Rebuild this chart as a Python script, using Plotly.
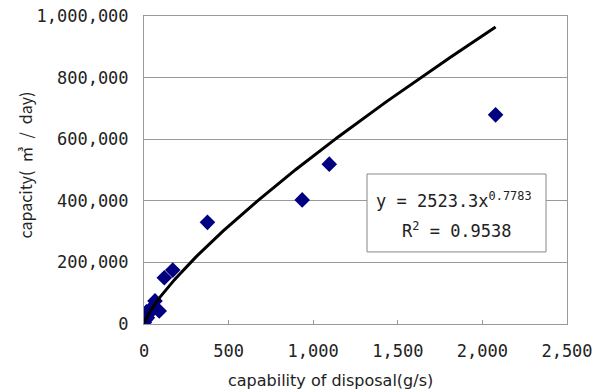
import numpy as np
import plotly.graph_objects as go

disposal = [2, 5, 10, 15, 20, 30, 50, 65, 90, 120, 170, 375, 935, 1095, 2078]
capacity = [5000, 30000, 15000, 40000, 20000, 35000, 55000, 75000, 42000,
            150000, 175000, 330000, 403000, 519000, 679000]

# Power trendline parameters
coef_a = 2523.3
coef_b = 0.7783
r_squared = 0.9538

x_ticks = [0, 500, 1000, 1500, 2000, 2500]
x_tick_text = ["0", "500", "1,000", "1,500", "2,000", "2,500"]
y_ticks = [0, 200000, 400000, 600000, 800000, 1000000]
y_tick_text = ["0", "200,000", "400,000", "600,000", "800,000", "1,000,000"]

trend_x = np.linspace(2, max(disposal), 200)
trend_y = coef_a * trend_x ** coef_b

fig = go.Figure()
fig.add_trace(go.Scatter(
    x=disposal, y=capacity, mode="markers",
    marker=dict(symbol="diamond", size=12, color="#000080"),
    showlegend=False))
fig.add_trace(go.Scatter(
    x=trend_x, y=trend_y, mode="lines",
    line=dict(color="black", width=3), showlegend=False))

tick_font = dict(family="DejaVu Sans Mono", size=17, color="#222")

fig.update_layout(
    width=603, height=389,
    margin=dict(l=144, r=36, t=16, b=65),
    paper_bgcolor="white", plot_bgcolor="white",
    xaxis=dict(range=[0, 2500], tickvals=x_ticks, ticktext=x_tick_text,
               automargin=False,
               showgrid=False, zeroline=False, showline=True,
               linecolor="#999", linewidth=1, mirror=True,
               ticks="inside", ticklen=4, tickcolor="#999",
               tickfont=tick_font, ticklabelstandoff=12),
    yaxis=dict(range=[0, 1000000], tickvals=y_ticks, ticktext=y_tick_text,
               automargin=False,
               showgrid=True, gridcolor="#999", gridwidth=1, zeroline=False,
               showline=True, linecolor="#999", linewidth=1, mirror=True,
               ticks="", tickfont=tick_font, ticklabelstandoff=11),
)

# Axis titles
fig.add_annotation(xref="paper", yref="paper", x=0.44, y=-0.185,
                   xanchor="center", yanchor="middle", showarrow=False,
                   text="capability of disposal(g/s)",
                   font=dict(family="DejaVu Sans", size=16, color="#222"))
fig.add_annotation(xref="paper", yref="paper", x=-0.281, y=0.515,
                   xanchor="center", yanchor="middle", showarrow=False,
                   textangle=-90,
                   text="capacity(\u2002㎥\u2002/\u2002day)",
                   font=dict(family="Noto Sans CJK KR", size=16, color="#222"))

# Trendline equation box
fig.add_shape(type="rect", xref="x", yref="y",
              x0=1318, x1=2376, y0=234000, y1=487000,
              fillcolor="white", line=dict(color="#888", width=1), layer="above")
fig.add_annotation(xref="x", yref="y", x=1835, y=403000, showarrow=False,
                   text=f"y = {coef_a}x<sup>{coef_b}</sup>",
                   font=dict(family="DejaVu Sans Mono", size=17, color="#222"))
fig.add_annotation(xref="x", yref="y", x=1847, y=305000, showarrow=False,
                   text=f"R<sup>2</sup> = {r_squared}",
                   font=dict(family="DejaVu Sans Mono", size=17, color="#222"))

fig.write_html("out.html", config={"displayModeBar": False},
               post_script="document.body.style.margin='0';")
